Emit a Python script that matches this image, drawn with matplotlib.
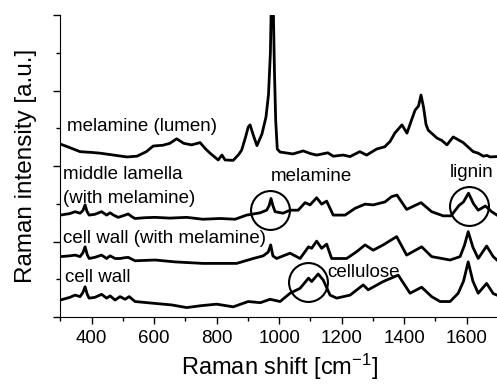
import matplotlib
matplotlib.use('Agg')
import matplotlib.pyplot as plt
from matplotlib.ticker import MultipleLocator

plt.rcParams['font.family'] = ['Liberation Sans', 'DejaVu Sans']
plt.rcParams['mathtext.default'] = 'regular'

# spectra (wavenumber in cm-1, intensity in offset units)
wn_lumen = [300, 320, 363, 400, 427, 470, 513, 545, 575, 597, 628, 650, 672, 695, 720,
            747, 765, 779, 805, 817, 827, 853, 870, 880, 892, 901, 907, 918, 929, 945,
            958, 966, 972, 976, 980, 985, 989, 994, 1003, 1044, 1077, 1100, 1120, 1156,
            1173, 1205, 1227, 1258, 1280, 1312, 1338, 1355, 1370, 1393, 1409, 1425, 1435,
            1446, 1454, 1462, 1470, 1477, 1505, 1520, 1537, 1557, 1572, 1589, 1605, 1621,
            1637, 1653, 1665, 1675, 1697]
lumen = [4.58, 4.52, 4.38, 4.36, 4.34, 4.29, 4.24, 4.26, 4.38, 4.53, 4.55, 4.60, 4.72, 4.60, 4.56,
         4.62, 4.45, 4.34, 4.16, 4.29, 4.16, 4.15, 4.30, 4.42, 4.75, 5.03, 5.09, 4.80, 4.54, 4.85,
         5.30, 5.90, 7.00, 8.80, 8.80, 6.50, 5.20, 4.45, 4.37, 4.32, 4.40, 4.33, 4.29, 4.35,
         4.26, 4.29, 4.25, 4.38, 4.29, 4.45, 4.51, 4.65, 4.87, 5.09, 4.87, 5.25, 5.48,
         5.59, 5.88, 5.56, 5.10, 4.95, 4.74, 4.68, 4.56, 4.77, 4.70, 4.62, 4.50, 4.38,
         4.34, 4.26, 4.28, 4.24, 4.25]

wn_ml = [300, 330, 347, 363, 372, 379, 385, 392, 410, 432, 448, 459, 470, 485, 500, 517, 530,
         539, 570, 603, 650, 704, 756, 811, 859, 896, 939, 960, 968, 974, 980, 987, 1012, 1035,
         1061, 1083, 1099, 1120, 1136, 1152, 1173, 1211, 1243, 1275, 1301, 1339, 1360, 1377,
         1408, 1454, 1488, 1525, 1550, 1575, 1590, 1606, 1622, 1637, 1660, 1680, 1697]
middle_lamella = [2.70, 2.74, 2.79, 2.75, 2.82, 2.97, 2.80, 2.70, 2.72, 2.79, 2.70, 2.76, 2.70, 2.64,
                  2.68, 2.73, 2.65, 2.61, 2.63, 2.64, 2.62, 2.64, 2.59, 2.61, 2.59, 2.70, 2.76, 2.83,
                  2.95, 3.14, 2.95, 2.79, 2.75, 2.83, 2.83, 3.03, 2.97, 3.16, 2.99, 3.07, 2.70, 2.70,
                  2.88, 2.99, 2.97, 3.05, 3.19, 3.23, 2.85, 3.03, 2.79, 2.68, 2.68, 2.95, 3.05, 3.28,
                  3.00, 2.83, 2.94, 2.79, 2.70]

wn_cwm = [300, 330, 347, 363, 372, 379, 386, 392, 410, 432, 448, 459, 475, 491, 505, 517, 539,
          603, 667, 756, 864, 917, 949, 965, 973, 980, 992, 1013, 1035, 1067, 1094, 1104, 1120,
          1136, 1152, 1168, 1216, 1248, 1275, 1301, 1333, 1376, 1408, 1456, 1488, 1547, 1579,
          1593, 1605, 1620, 1637, 1664, 1685, 1697]
cell_wall_mel = [1.60, 1.62, 1.64, 1.60, 1.70, 1.86, 1.65, 1.55, 1.58, 1.64, 1.55, 1.62, 1.55, 1.55,
                 1.57, 1.58, 1.49, 1.51, 1.46, 1.42, 1.42, 1.55, 1.62, 1.72, 1.91, 1.62, 1.55, 1.62,
                 1.69, 1.55, 1.86, 1.82, 2.01, 1.82, 1.93, 1.55, 1.55, 1.73, 1.91, 1.77, 1.91, 2.13,
                 1.64, 1.86, 1.60, 1.51, 1.60, 1.90, 2.26, 1.85, 1.55, 1.88, 1.60, 1.51]

wn_cw = [300, 330, 347, 363, 372, 379, 386, 392, 410, 432, 448, 459, 475, 491, 507, 520, 539,
         603, 656, 704, 750, 800, 853, 901, 940, 971, 1003, 1035, 1067, 1094, 1104, 1125, 1141,
         1163, 1184, 1227, 1269, 1285, 1333, 1381, 1419, 1456, 1488, 1515, 1547, 1573, 1590,
         1605, 1620, 1637, 1664, 1685, 1697]
cell_wall = [0.45, 0.52, 0.58, 0.54, 0.65, 0.80, 0.60, 0.50, 0.52, 0.60, 0.50, 0.56, 0.45, 0.54,
             0.47, 0.54, 0.41, 0.36, 0.32, 0.25, 0.30, 0.34, 0.27, 0.41, 0.38, 0.47, 0.41, 0.63,
             0.76, 1.03, 0.94, 1.14, 0.98, 0.58, 0.50, 0.58, 0.85, 0.72, 0.94, 1.11, 0.63, 0.79,
             0.54, 0.41, 0.41, 0.63, 0.95, 1.46, 0.95, 0.63, 0.89, 0.62, 0.58]

# trace labels: text, wavenumber of left edge, baseline height
labels = [('melamine (lumen)', 321, 4.93),
          ('middle lamella', 309, 3.66),
          ('(with melamine)', 309, 3.01),
          ('cell wall (with melamine)', 309, 1.95),
          ('cell wall', 315, 0.94),
          ('melamine', 973, 3.60),
          ('lignin', 1547, 3.71),
          ('cellulose', 1154, 1.07)]

# circled bands: wavenumber, height
circles = [(971, 2.83), (1606, 2.94), (1092, 0.93)]

fig = plt.figure(figsize=(4.97, 3.85), dpi=100)
ax = fig.add_axes([0.1215, 0.1766, 0.8803, 0.7844])

for x, y in [(wn_lumen, lumen), (wn_ml, middle_lamella),
             (wn_cwm, cell_wall_mel), (wn_cw, cell_wall)]:
    ax.plot(x, y, color='black', lw=2.0, solid_joinstyle='round')

for cx, cy in circles:
    ax.plot(cx, cy, marker='o', ms=28, mfc='none', mec='black', mew=1.5)

for text, x, y in labels:
    ax.text(x, y, text, fontsize=13.5, ha='left', va='baseline')

ax.set_xlim(300, 1700)
ax.set_ylim(0, 8)
ax.spines['top'].set_visible(False)
ax.spines['right'].set_visible(False)
ax.xaxis.set_major_locator(MultipleLocator(200))
ax.xaxis.set_minor_locator(MultipleLocator(100))
ax.yaxis.set_major_locator(MultipleLocator(2))
ax.yaxis.set_minor_locator(MultipleLocator(1))
ax.tick_params(which='major', length=5, width=1, labelsize=13.5, pad=4)
ax.tick_params(which='minor', length=3, width=1)
ax.tick_params(axis='y', which='both', labelleft=False)

ax.set_xlabel('Raman shift [cm$^{-1}$]', fontsize=17, labelpad=4)
ax.set_ylabel('Raman intensity [a.u.]', fontsize=17.5, labelpad=12)

plt.savefig('out.png', format='png')
